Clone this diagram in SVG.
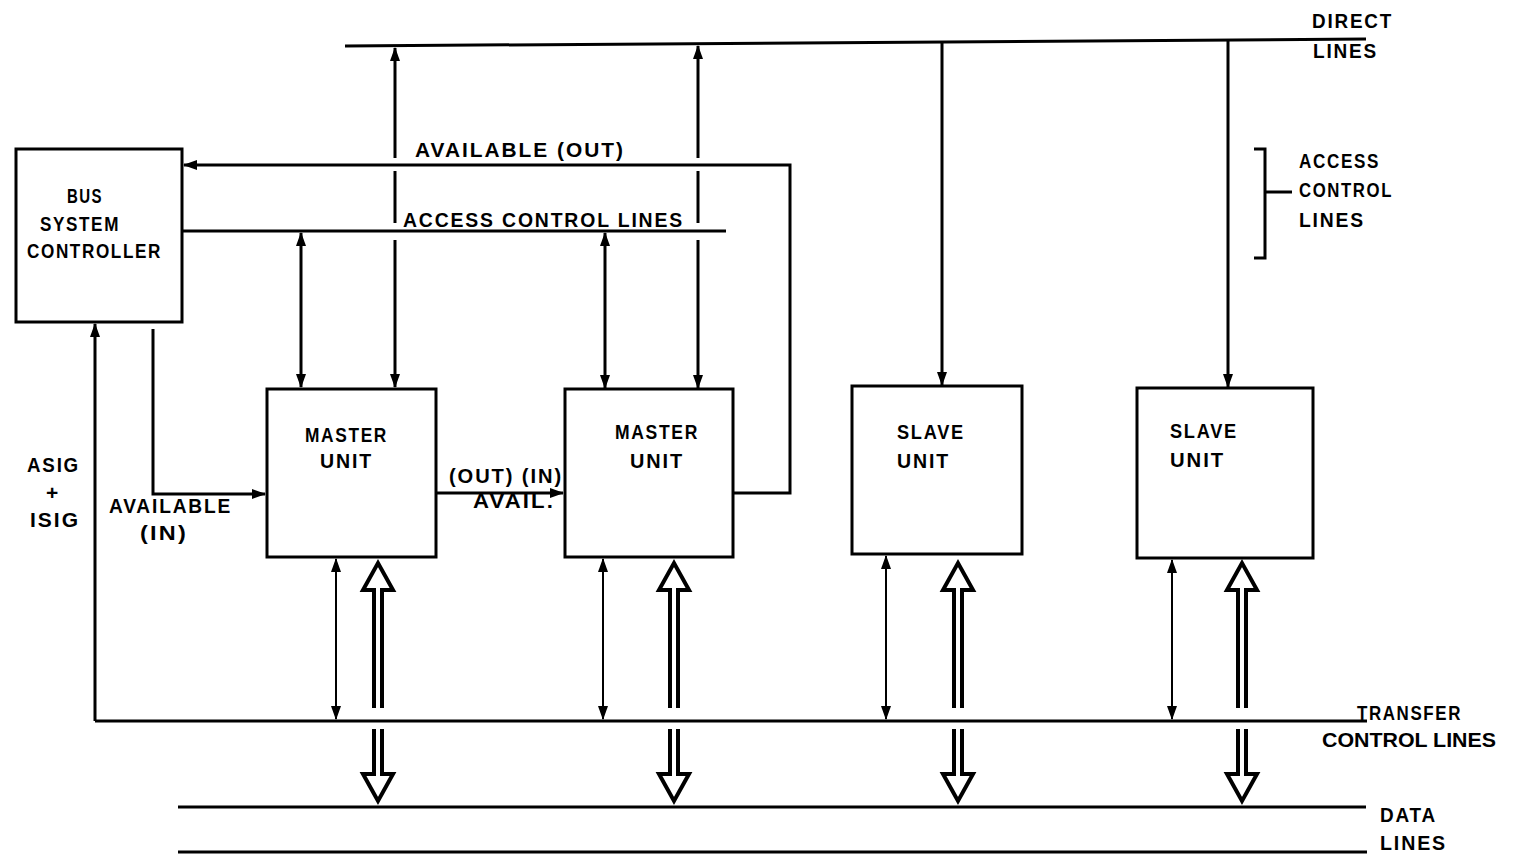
<svg xmlns="http://www.w3.org/2000/svg" xmlns:xlink="http://www.w3.org/1999/xlink" width="1514" height="856" viewBox="0 0 1514 856">
<style>
.bg{fill:#fff}
.box{fill:#fff;stroke:#000;stroke-width:3}
.ln{fill:none;stroke:#000;stroke-width:3}
.th{fill:none;stroke:#000;stroke-width:2}
.hol{fill:#fff;stroke:#000;stroke-width:4;stroke-linejoin:miter}
text{font-family:"Liberation Sans",Arial,sans-serif;font-weight:bold;font-size:21px;letter-spacing:2px;fill:#000}
.nr{letter-spacing:0}
</style>
<defs>
<marker id="ah" markerUnits="userSpaceOnUse" markerWidth="14" markerHeight="10" refX="13" refY="5" orient="auto-start-reverse" viewBox="0 0 14 10">
<path d="M0,0 L14,5 L0,10 z" fill="#000"/>
</marker>
<path id="hup" d="M-4,708 L-4,590 L-15,590 L0,563 L15,590 L4,590 L4,708"/>
<path id="hdn" d="M-4,729 L-4,774 L-15,774 L0,801 L15,774 L4,774 L4,729"/>
</defs>
<rect class="bg" x="0" y="0" width="1514" height="856"/>

<g id="connectors">
<line class="ln" x1="345" y1="46" x2="1366" y2="39"/>
<line class="ln" x1="95" y1="721" x2="1367" y2="721"/>
<line class="ln" x1="178" y1="807" x2="1366" y2="807"/>
<line class="ln" x1="178" y1="852" x2="1367" y2="852"/>
<polyline class="ln" points="734,493 790,493 790,165 184,165" marker-end="url(#ah)"/>
<line class="ln" x1="182" y1="231" x2="726" y2="231"/>
<polyline class="ln" points="153,329 153,494 265,494" marker-end="url(#ah)"/>
<line class="ln" x1="95" y1="721" x2="95" y2="324" marker-end="url(#ah)"/>
<line class="ln" x1="436" y1="493" x2="563" y2="493" marker-end="url(#ah)"/>
<line class="ln" x1="395" y1="158" x2="395" y2="48" marker-end="url(#ah)"/>
<line class="ln" x1="395" y1="171" x2="395" y2="223"/>
<line class="ln" x1="395" y1="240" x2="395" y2="387" marker-end="url(#ah)"/>
<line class="ln" x1="698" y1="158" x2="698" y2="46" marker-end="url(#ah)"/>
<line class="ln" x1="698" y1="171" x2="698" y2="223"/>
<line class="ln" x1="698" y1="240" x2="698" y2="388" marker-end="url(#ah)"/>
<line class="ln" x1="942" y1="43" x2="942" y2="385" marker-end="url(#ah)"/>
<line class="ln" x1="1228" y1="41" x2="1228" y2="387" marker-end="url(#ah)"/>
<line class="ln" x1="301" y1="233" x2="301" y2="387" marker-start="url(#ah)" marker-end="url(#ah)"/>
<line class="ln" x1="605" y1="233" x2="605" y2="388" marker-start="url(#ah)" marker-end="url(#ah)"/>
<line class="th" x1="336" y1="559" x2="336" y2="719" marker-start="url(#ah)" marker-end="url(#ah)"/>
<line class="th" x1="603" y1="559" x2="603" y2="719" marker-start="url(#ah)" marker-end="url(#ah)"/>
<line class="th" x1="886" y1="556" x2="886" y2="719" marker-start="url(#ah)" marker-end="url(#ah)"/>
<line class="th" x1="1172" y1="560" x2="1172" y2="719" marker-start="url(#ah)" marker-end="url(#ah)"/>
<use class="hol" xlink:href="#hup" x="378"/>
<use class="hol" xlink:href="#hdn" x="378"/>
<use class="hol" xlink:href="#hup" x="674"/>
<use class="hol" xlink:href="#hdn" x="674"/>
<use class="hol" xlink:href="#hup" x="958"/>
<use class="hol" xlink:href="#hdn" x="958"/>
<use class="hol" xlink:href="#hup" x="1242"/>
<use class="hol" xlink:href="#hdn" x="1242"/>
<polyline class="ln" points="1254,149 1265,149 1265,258 1254,258"/>
<line class="ln" x1="1265" y1="192" x2="1292" y2="192"/>
</g>

<g id="controller">
<rect class="box" x="16" y="149" width="166" height="173"/>
<text x="67" y="203" textLength="36" lengthAdjust="spacingAndGlyphs">BUS</text>
<text x="40" y="231" textLength="80" lengthAdjust="spacingAndGlyphs">SYSTEM</text>
<text x="27" y="258" textLength="135" lengthAdjust="spacingAndGlyphs">CONTROLLER</text>
</g>
<g id="master1">
<rect class="box" x="267" y="389" width="169" height="168"/>
<text x="305" y="442" textLength="83" lengthAdjust="spacingAndGlyphs">MASTER</text>
<text x="320" y="468" textLength="53" lengthAdjust="spacingAndGlyphs">UNIT</text>
</g>
<g id="master2">
<rect class="box" x="565" y="389" width="168" height="168"/>
<text x="615" y="439" textLength="84" lengthAdjust="spacingAndGlyphs">MASTER</text>
<text x="630" y="468" textLength="54" lengthAdjust="spacingAndGlyphs">UNIT</text>
</g>
<g id="slave1">
<rect class="box" x="852" y="386" width="170" height="168"/>
<text x="897" y="439" textLength="68" lengthAdjust="spacingAndGlyphs">SLAVE</text>
<text x="897" y="468" textLength="53" lengthAdjust="spacingAndGlyphs">UNIT</text>
</g>
<g id="slave2">
<rect class="box" x="1137" y="388" width="176" height="170"/>
<text x="1170" y="438" textLength="68" lengthAdjust="spacingAndGlyphs">SLAVE</text>
<text x="1170" y="467" textLength="55" lengthAdjust="spacingAndGlyphs">UNIT</text>
</g>

<g id="labels">
<text x="415" y="157" textLength="210" lengthAdjust="spacingAndGlyphs">AVAILABLE (OUT)</text>
<text x="403" y="227" textLength="281" lengthAdjust="spacingAndGlyphs">ACCESS CONTROL LINES</text>
<text x="449" y="483" textLength="114" lengthAdjust="spacingAndGlyphs">(OUT) (IN)</text>
<text x="473" y="508" textLength="82" lengthAdjust="spacingAndGlyphs">AVAIL.</text>
<text x="109" y="513" textLength="123" lengthAdjust="spacingAndGlyphs">AVAILABLE</text>
<text x="140" y="540" textLength="48" lengthAdjust="spacingAndGlyphs">(IN)</text>
<text x="27" y="472" textLength="53" lengthAdjust="spacingAndGlyphs">ASIG</text>
<text x="46" y="500">+</text>
<text x="30" y="527" textLength="50" lengthAdjust="spacingAndGlyphs">ISIG</text>
<text x="1312" y="28" textLength="81" lengthAdjust="spacingAndGlyphs">DIRECT</text>
<text x="1313" y="58" textLength="65" lengthAdjust="spacingAndGlyphs">LINES</text>
<text x="1299" y="168" textLength="81" lengthAdjust="spacingAndGlyphs">ACCESS</text>
<text x="1299" y="197" textLength="94" lengthAdjust="spacingAndGlyphs">CONTROL</text>
<text x="1299" y="227" textLength="66" lengthAdjust="spacingAndGlyphs">LINES</text>
<text x="1357" y="720" textLength="105" lengthAdjust="spacingAndGlyphs">TRANSFER</text>
<text class="nr" x="1322" y="747" textLength="174" lengthAdjust="spacingAndGlyphs">CONTROL LINES</text>
<text x="1380" y="822" textLength="57" lengthAdjust="spacingAndGlyphs">DATA</text>
<text x="1380" y="850" textLength="67" lengthAdjust="spacingAndGlyphs">LINES</text>
</g>
</svg>
